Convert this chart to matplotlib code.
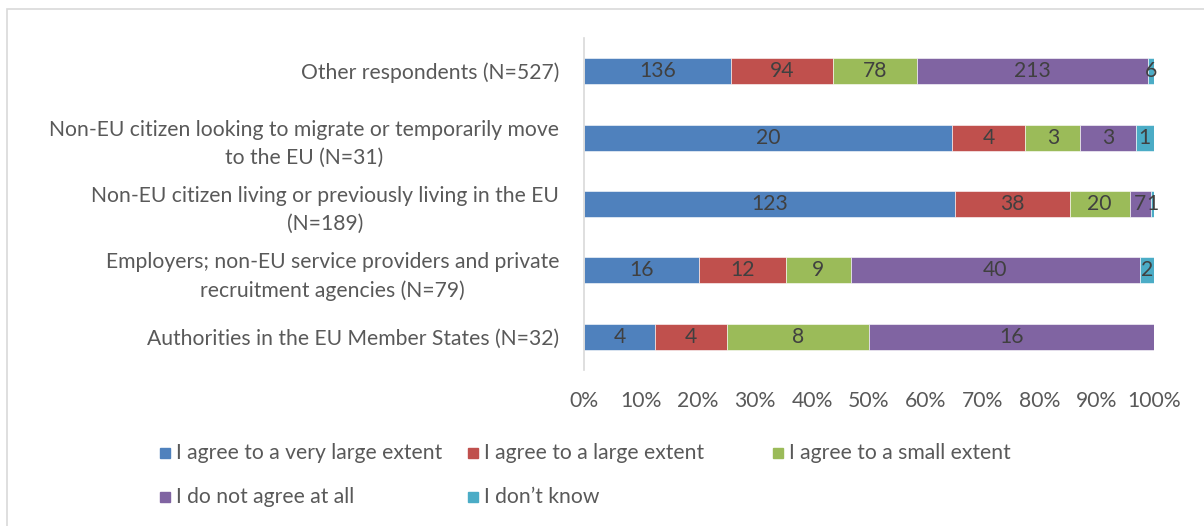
import matplotlib.pyplot as plt
from matplotlib.patches import Rectangle
import numpy as np

# Survey responses per respondent group
groups = [
    "Authorities in the EU Member States (N=32)",
    "Employers; non-EU service providers and private\nrecruitment agencies (N=79)",
    "Non-EU citizen living or previously living in the EU\n(N=189)",
    "Non-EU citizen looking to migrate or temporarily move\nto the EU (N=31)",
    "Other respondents (N=527)",
]
very_large = [4, 16, 123, 20, 136]
large = [4, 12, 38, 4, 94]
small = [8, 9, 20, 3, 78]
not_at_all = [16, 40, 7, 3, 213]
dont_know = [0, 2, 1, 1, 6]

answers = ["I agree to a very large extent", "I agree to a large extent",
           "I agree to a small extent", "I do not agree at all", "I don\u2019t know"]
colors = ["#4F81BD", "#C0504D", "#9BBB59", "#8064A2", "#4BACC6"]
tick_labels = ["0%", "10%", "20%", "30%", "40%", "50%", "60%", "70%", "80%", "90%", "100%"]

plt.rcParams['font.family'] = ['Lato', 'DejaVu Sans']
text_gray = "#595959"
fs = 15.2

W, H = 1204, 526
fig = plt.figure(figsize=(W / 100, H / 100), dpi=100)
ax = fig.add_axes([584 / W, 1 - 370 / H, 570 / W, 332 / H])

# chart frame
fig.patches.append(Rectangle((7 / W, -0.1), 1.2, 1 - 9 / H + 0.1,
                             transform=fig.transFigure, fill=False,
                             edgecolor="#D9D9D9", linewidth=1.2))

series = [very_large, large, small, not_at_all, dont_know]
totals = np.array(series).sum(axis=0)
y = np.arange(len(groups))
left = np.zeros(len(groups))
for vals, col, name in zip(series, colors, answers):
    vals = np.array(vals, dtype=float)
    share = vals / totals
    ax.barh(y, share, left=left, height=0.39, color=col, label=name,
            edgecolor="white", linewidth=0.4)
    for i in range(len(groups)):
        if vals[i] > 0:
            ax.text(left[i] + share[i] / 2, y[i], f"{int(vals[i])}",
                    ha="center", va="center", fontsize=fs, color="#404040")
    left += share

ax.set_xlim(0, 1)
ax.set_ylim(-0.5, len(groups) - 0.5)
ax.set_xticks(np.linspace(0, 1, 11))
ax.set_xticklabels(tick_labels)
ax.set_yticks(y)
ax.set_yticklabels(groups, multialignment="center", linespacing=1.5)
ax.tick_params(axis="both", length=0, labelsize=fs, colors=text_gray)
ax.tick_params(axis="x", pad=15)
ax.tick_params(axis="y", pad=18)
for s in ["top", "right", "bottom"]:
    ax.spines[s].set_visible(False)
ax.spines["left"].set_color("#D9D9D9")
ax.spines["left"].set_linewidth(1.2)

# legend laid out in evenly spaced slots, three per row
col_x = [160, 468, 773]
row_y = [453, 497]
for k, (name, col) in enumerate(zip(answers, colors)):
    px = col_x[k % 3]
    py = row_y[k // 3]
    fig.patches.append(Rectangle((px / W, 1 - (py + 5) / H), 10 / W, 10 / H,
                                 transform=fig.transFigure, color=col))
    fig.text((px + 16) / W, 1 - py / H, name, ha="left", va="center",
             fontsize=fs, color=text_gray)

fig.savefig("out.png", dpi=100)
